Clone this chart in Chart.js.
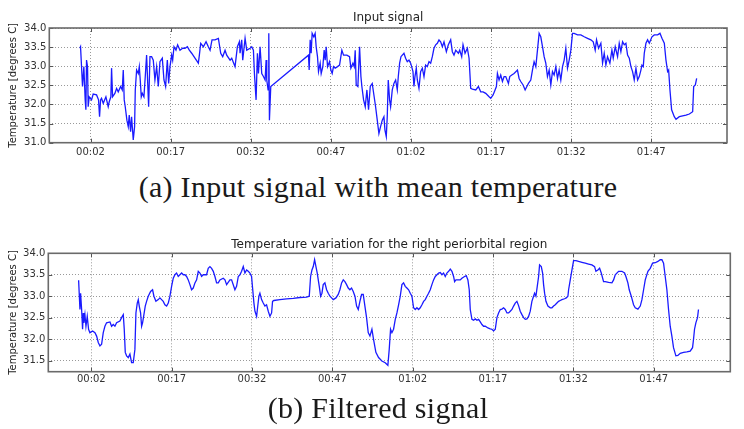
<!DOCTYPE html>
<html><head><meta charset="utf-8">
<script src="https://cdn.jsdelivr.net/npm/chart.js@4.4.1/dist/chart.umd.min.js"></script>
<style>
html,body{margin:0;padding:0;background:#fff;width:744px;height:429px;overflow:hidden;}
canvas{position:absolute;left:0;}
#ca{top:0;} #cb{top:228px;}
.cap{position:absolute;left:6px;width:744px;text-align:center;font-family:'Liberation Serif',serif;font-size:30px;line-height:30px;letter-spacing:0.3px;color:#1a1a1a;white-space:nowrap;}
</style></head><body>
<canvas id="ca" width="744" height="165"></canvas>
<canvas id="cb" width="744" height="167"></canvas>
<div class="cap" style="top:172px">(a) Input signal with mean temperature</div>
<div class="cap" style="top:393px">(b) Filtered signal</div>
<script>
const xTickMinutes = [2, 17, 32, 47, 62, 77, 92, 107];
const xTickLabels = ['00:02', '00:17', '00:32', '00:47', '01:02', '01:17', '01:32', '01:47'];
const inputYTicks = [31.0, 31.5, 32.0, 32.5, 33.0, 33.5, 34.0];
const filteredYTicks = [31.5, 32.0, 32.5, 33.0, 33.5, 34.0];

const inputMinutes = [
  0.00,0.13,0.50,0.75,1.00,1.13,1.25,1.44,1.56,1.75,
  2.19,2.50,3.13,3.50,3.69,3.88,4.06,4.38,4.88,5.31,
  5.50,5.81,5.94,6.13,6.56,6.88,7.19,7.63,7.94,8.13,
  8.31,8.50,8.81,9.06,9.25,9.50,9.69,10.00,10.25,10.38,
  10.63,10.94,11.13,11.31,11.50,11.69,12.00,12.25,12.50,12.88,
  13.13,13.44,13.75,14.06,14.38,14.69,15.00,15.44,15.75,16.06,
  16.38,16.63,16.88,17.19,17.38,17.63,18.00,18.31,18.75,19.25,
  19.69,20.13,20.50,20.94,21.56,22.19,22.38,22.63,23.13,23.63,
  24.06,24.38,24.75,25.31,25.94,26.38,26.75,27.19,27.50,28.13,
  28.44,29.06,29.50,29.88,30.00,30.31,30.50,30.94,31.25,31.88,
  32.19,32.50,32.69,33.00,33.25,33.44,33.75,34.06,34.38,34.69,
  34.88,35.00,35.25,35.38,35.50,35.75,
  42.81,42.94,43.13,43.31,43.50,43.81,44.06,44.25,44.50,44.69,
  45.00,45.19,45.50,45.75,45.94,46.13,46.38,46.75,47.00,47.25,
  47.50,47.81,48.25,48.63,49.06,49.38,50.00,50.50,50.75,51.13,
  51.38,51.56,51.75,52.06,52.38,52.63,52.81,53.13,53.44,53.75,
  54.06,54.38,54.75,
  55.38,55.69,56.00,56.31,56.63,56.94,57.13,57.38,57.56,57.75,
  58.00,58.19,58.50,58.81,59.13,59.44,59.63,59.88,60.13,60.38,
  60.69,61.00,61.31,61.63,61.94,62.13,62.38,62.56,62.75,63.00,
  63.19,63.50,63.81,64.13,64.44,64.75,65.06,65.38,65.69,66.00,
  66.31,66.63,66.94,67.25,67.56,67.88,68.19,68.63,69.00,69.44,
  69.75,70.06,70.38,70.88,71.13,71.50,71.75,72.13,72.56,72.88,
  73.19,73.50,74.13,74.63,75.06,75.50,76.00,76.63,76.94,77.38,
  77.75,78.00,78.19,78.50,78.81,79.13,79.44,79.75,80.25,80.50,
  80.88,81.31,81.94,82.25,82.56,83.00,83.38,83.63,84.00,84.44,
  84.75,85.06,85.38,85.69,86.00,86.31,86.63,86.94,87.25,87.56,
  87.88,88.19,88.50,88.81,89.13,89.44,89.75,90.06,90.38,90.69,
  91.00,91.31,91.63,91.94,92.25,92.56,93.19,93.81,94.44,95.06,
  95.69,96.13,96.50,96.75,97.13,97.56,97.88,98.19,98.50,98.81,
  99.25,99.63,99.88,100.25,100.69,101.00,101.31,101.63,101.94,102.25,
  102.56,102.88,103.19,103.50,103.81,104.13,104.44,104.75,105.06,105.25,
  105.50,105.69,106.00,106.31,106.63,107.13,107.56,108.19,108.63,109.00,
  109.44,109.75,110.06,110.25,110.50,110.81,111.31,111.63,112.25,112.88,
  113.50,114.13,114.75,114.94,115.25,115.50
];
const inputTemps = [
  33.47,33.51,32.47,32.99,32.12,31.86,33.16,32.99,31.94,32.20,
  32.12,32.27,32.25,32.12,31.68,32.12,32.16,32.03,32.20,31.94,
  32.07,32.20,32.95,32.20,32.29,32.42,32.33,32.47,32.38,32.90,
  32.12,31.94,31.59,31.42,31.72,31.29,31.68,31.07,31.42,32.38,
  32.90,32.81,32.99,32.64,32.20,32.29,32.20,32.73,33.29,31.94,
  33.25,33.25,33.16,32.64,32.99,32.47,33.12,33.21,32.64,32.47,
  33.16,32.55,32.99,33.29,33.16,33.51,33.42,33.56,33.42,33.47,
  33.47,33.51,33.42,33.34,33.21,33.08,33.29,33.60,33.51,33.64,
  33.51,33.42,33.69,33.69,33.73,33.34,33.25,33.42,33.29,33.16,
  33.21,32.99,33.51,33.64,33.34,33.69,33.16,33.73,33.42,33.47,
  33.51,33.42,32.81,32.12,33.34,32.81,33.51,32.81,32.73,32.64,
  33.16,32.64,32.38,33.86,31.59,32.47,
  33.29,32.90,33.69,33.34,33.86,33.77,33.86,33.51,33.25,32.86,
  33.08,32.81,32.99,33.42,33.16,33.51,32.99,33.12,32.90,32.81,
  32.99,32.95,32.99,33.03,33.42,33.29,33.29,33.25,32.95,33.08,
  32.99,33.42,32.51,32.47,33.51,32.73,32.47,32.12,31.94,32.38,
  31.86,32.47,32.55,
  31.94,31.59,31.24,31.42,31.59,31.68,31.33,31.16,31.68,32.64,
  32.12,31.94,32.38,32.55,32.64,32.38,32.73,33.08,33.25,33.29,
  33.34,33.21,33.12,33.16,33.08,32.99,32.86,32.47,32.73,32.95,
  32.64,32.42,32.86,32.95,32.73,33.03,32.99,33.12,33.08,33.25,
  33.47,33.56,33.60,33.69,33.64,33.51,33.64,33.38,33.56,33.69,
  33.38,33.29,33.42,33.34,33.42,33.25,33.56,33.34,33.47,33.21,
  32.42,32.40,32.38,32.47,32.33,32.33,32.29,32.20,32.16,32.25,
  32.38,32.47,32.81,32.64,32.77,32.60,32.73,32.73,32.55,32.73,
  32.77,32.81,32.90,32.68,32.60,32.51,32.38,32.45,32.55,32.64,
  32.90,33.12,32.99,33.42,33.86,33.77,33.51,33.25,33.08,32.73,
  32.90,32.51,32.86,32.77,32.99,32.68,32.90,32.64,32.99,33.16,
  33.47,32.95,33.16,33.42,33.86,33.86,33.82,33.82,33.77,33.73,
  33.69,33.64,33.42,33.69,33.47,33.60,33.08,33.34,33.03,33.25,
  33.08,33.42,33.21,33.51,33.25,33.60,33.38,33.64,33.56,33.60,
  33.29,33.21,32.99,32.86,32.64,32.95,32.64,32.73,32.90,33.03,
  32.99,33.34,33.60,33.69,33.60,33.77,33.82,33.82,33.86,33.73,
  33.60,33.16,32.86,32.90,32.38,31.86,31.68,31.61,31.68,31.70,
  31.72,31.75,31.81,32.47,32.51,32.68
];

const filteredMinutes = [
  -0.37,-0.12,0.00,0.19,0.37,0.50,0.62,0.81,1.00,1.24,
  1.49,1.74,2.24,2.68,2.99,3.30,3.61,3.92,4.23,4.54,
  4.85,5.48,5.79,6.10,6.41,6.72,7.34,7.65,7.97,8.15,
  8.34,8.59,8.90,9.21,9.52,9.83,10.14,10.33,10.58,10.77,
  10.95,11.20,11.39,11.57,11.82,12.07,12.32,12.63,13.07,13.44,
  13.69,14.06,14.50,14.81,15.12,15.43,15.74,16.06,16.37,16.68,
  16.99,17.30,17.61,17.92,18.23,18.54,18.86,19.17,19.48,19.79,
  20.10,20.41,20.72,21.03,21.35,21.66,21.97,22.28,22.59,22.90,
  23.52,23.83,24.15,24.46,24.77,25.08,25.39,25.70,26.01,26.63,
  26.95,27.26,27.88,28.19,28.81,29.12,29.44,29.75,30.06,30.37,
  30.68,30.99,31.30,31.61,31.92,32.11,32.36,32.55,32.86,33.04,
  33.29,33.48,33.79,34.10,34.41,34.72,35.04,35.35,35.66,35.84,
  36.09,37.21,38.46,39.70,40.95,42.19,42.69,42.94,43.19,43.44,
  43.69,43.94,44.18,44.56,44.81,45.06,45.30,45.61,45.93,46.24,
  46.55,46.86,47.17,47.67,48.10,48.41,48.73,49.04,49.35,49.66,
  49.97,50.28,50.59,50.90,51.22,51.53,51.84,52.15,52.46,52.77,
  53.08,53.39,53.70,54.02,54.39,54.70,55.13,55.63,56.25,56.87,
  57.37,57.62,57.87,58.12,58.43,58.75,59.06,59.37,59.68,59.99,
  60.30,60.61,60.92,61.24,61.55,61.86,62.17,62.48,62.79,63.10,
  63.41,63.73,64.04,64.35,64.66,64.97,65.28,65.59,65.90,66.22,
  66.53,66.84,67.15,67.46,67.77,68.08,68.39,68.71,69.02,69.33,
  69.64,69.83,70.07,70.45,70.88,71.19,71.69,72.00,72.31,72.56,
  72.75,73.06,73.37,73.68,74.00,74.31,74.62,74.93,75.24,75.55,
  76.05,76.48,76.79,77.11,77.42,77.73,78.04,78.35,78.66,78.97,
  79.28,79.60,79.91,80.22,80.53,80.84,81.15,81.46,81.77,82.08,
  82.40,82.71,83.02,83.33,83.64,83.95,84.26,84.57,84.76,85.01,
  85.26,85.51,85.69,86.01,86.26,86.44,86.63,86.88,87.25,87.69,
  88.00,88.31,88.62,88.93,89.24,89.55,89.86,90.36,90.67,90.98,
  91.11,91.42,91.73,92.04,92.48,92.98,93.60,94.22,94.84,95.46,
  95.96,96.21,96.58,96.90,97.21,97.64,97.95,98.58,99.20,99.51,
  99.82,100.44,101.06,101.56,101.81,102.18,102.43,102.81,103.24,103.55,
  104.05,104.49,104.80,105.11,105.42,105.92,106.35,106.79,107.29,107.78,
  108.22,108.53,108.84,109.15,109.46,109.77,110.08,110.39,110.70,111.14,
  111.51,111.95,112.57,113.19,113.81,114.25,114.43,114.62,114.87,115.18,
  115.36
];
const filteredTemps = [
  33.37,32.69,33.07,32.69,32.23,32.61,32.38,32.57,32.30,32.53,
  32.23,32.15,32.19,32.15,32.07,31.92,31.84,31.88,32.15,32.30,
  32.38,32.40,32.30,32.34,32.30,32.38,32.42,32.50,32.57,32.23,
  31.69,31.61,31.57,31.65,31.45,31.45,31.76,32.61,32.84,32.92,
  32.77,32.61,32.30,32.38,32.57,32.77,32.88,33.00,33.11,33.15,
  33.00,32.88,32.92,32.96,32.92,32.88,32.80,32.77,32.84,33.00,
  33.23,33.42,33.50,33.54,33.46,33.50,33.54,33.50,33.50,33.46,
  33.38,33.27,33.15,33.19,33.31,33.38,33.58,33.54,33.46,33.50,
  33.50,33.65,33.69,33.65,33.58,33.46,33.31,33.31,33.38,33.42,
  33.38,33.27,33.38,33.38,33.15,33.23,33.46,33.50,33.58,33.69,
  33.54,33.61,33.58,33.54,33.46,33.19,32.84,32.65,32.53,32.73,
  33.00,33.07,32.92,32.84,32.77,32.80,32.65,32.53,32.61,32.88,
  32.90,32.92,32.94,32.95,32.97,32.98,33.00,33.46,33.61,33.69,
  33.85,33.69,33.54,33.23,33.00,33.07,33.27,33.31,33.15,33.07,
  33.00,32.96,32.92,32.96,33.04,33.15,33.31,33.38,33.34,33.27,
  33.19,33.15,33.19,33.11,33.00,32.77,32.69,32.88,33.04,33.04,
  32.77,32.50,32.15,32.07,32.23,31.99,31.69,31.57,31.49,31.45,
  31.39,31.76,32.23,32.15,32.23,32.46,32.61,32.80,33.00,33.27,
  33.31,33.23,33.19,33.15,33.07,33.00,32.73,32.69,32.73,32.69,
  32.73,32.80,32.88,32.92,33.00,33.07,33.15,33.27,33.38,33.46,
  33.50,33.54,33.55,33.50,33.54,33.46,33.54,33.58,33.63,33.58,
  33.46,33.34,33.38,33.38,33.38,33.42,33.46,33.48,33.38,33.15,
  32.69,32.46,32.44,32.47,32.44,32.46,32.40,32.34,32.30,32.30,
  32.26,32.24,32.23,32.19,32.23,32.50,32.61,32.69,32.70,32.73,
  32.69,32.61,32.61,32.65,32.69,32.77,32.84,32.88,32.78,32.65,
  32.57,32.50,32.46,32.47,32.53,32.65,32.88,33.00,33.07,33.00,
  33.23,33.46,33.73,33.69,33.54,33.27,33.07,32.88,32.77,32.73,
  32.73,32.77,32.80,32.84,32.88,32.90,32.92,32.94,32.96,33.00,
  33.15,33.38,33.61,33.83,33.83,33.81,33.79,33.77,33.75,33.73,
  33.69,33.58,33.61,33.65,33.54,33.34,33.34,33.32,33.31,33.38,
  33.50,33.58,33.58,33.54,33.46,33.31,33.15,33.00,32.80,32.73,
  32.70,32.77,32.92,33.15,33.38,33.58,33.65,33.77,33.78,33.81,
  33.85,33.85,33.77,33.46,33.15,32.69,32.30,32.07,31.80,31.61,
  31.62,31.67,31.69,31.70,31.72,31.80,31.99,32.23,32.38,32.50,
  32.69
];

const FONT = 'DejaVu Sans';

const framePlugin = {
  id: 'frame',
  afterDraw(chart) {
    const { ctx, chartArea: a, scales } = chart;
    ctx.save();
    ctx.strokeStyle = '#555';
    ctx.lineWidth = 1;
    ctx.beginPath();
    scales.x.ticks.forEach(t => {
      const px = Math.round(scales.x.getPixelForValue(t.value)) + 0.5;
      ctx.moveTo(px, a.bottom); ctx.lineTo(px, a.bottom - 4);
      ctx.moveTo(px, a.top); ctx.lineTo(px, a.top + 4);
    });
    scales.y.ticks.forEach(t => {
      const py = Math.round(scales.y.getPixelForValue(t.value)) + 0.5;
      ctx.moveTo(a.left, py); ctx.lineTo(a.left + 4, py);
      ctx.moveTo(a.right, py); ctx.lineTo(a.right - 4, py);
    });
    ctx.stroke();
    ctx.lineWidth = 1.6;
    ctx.strokeStyle = '#6a6a6a';
    ctx.strokeRect(a.left, a.top, a.right - a.left, a.bottom - a.top);
    ctx.restore();
  }
};

function makeChart(id, minutes, temps, cfg) {
  const points = minutes.map((m, i) => ({ x: m, y: temps[i] }));
  const gridOpts = { color: 'rgba(0,0,0,0.4)', lineWidth: 1, drawTicks: false };
  return new Chart(document.getElementById(id), {
    type: 'line',
    data: { datasets: [{ data: points, borderColor: '#1a1aff', borderWidth: 1.3, pointRadius: 0, tension: 0, fill: false }] },
    options: {
      responsive: false, animation: false, devicePixelRatio: 1,
      layout: { padding: { left: 0, right: cfg.padRight, top: 0, bottom: 0 } },
      plugins: {
        legend: { display: false },
        tooltip: { enabled: false },
        title: {
          display: true, text: cfg.title, fullSize: false, color: '#222',
          font: { family: FONT, size: 12, weight: 'normal', lineHeight: 1.2 },
          padding: { top: cfg.titleTop, bottom: cfg.titleBottom }
        }
      },
      scales: {
        x: {
          type: 'linear', min: cfg.xMin, max: cfg.xMax,
          afterBuildTicks: s => { s.ticks = xTickMinutes.map(v => ({ value: v })); },
          afterFit: s => { s.height = cfg.xHeight; },
          ticks: {
            autoSkip: false, maxRotation: 0, padding: cfg.xPad, color: '#333',
            font: { family: FONT, size: 10 },
            callback: (v, i) => xTickLabels[i]
          },
          grid: gridOpts,
          border: { display: false, dash: [1, 2] }
        },
        y: {
          min: cfg.yMin, max: cfg.yMax,
          afterBuildTicks: s => { s.ticks = cfg.yTicks.map(v => ({ value: v })); },
          afterFit: s => { s.width = cfg.yWidth; },
          ticks: {
            padding: 3, color: '#333', font: { family: FONT, size: 10 },
            callback: v => Number(v).toFixed(1)
          },
          grid: gridOpts,
          border: { display: false, dash: [1, 2] },
          title: {
            display: true, text: 'Temperature [degrees C]', color: '#222',
            font: { family: FONT, size: 10, lineHeight: 1.2 },
            padding: { top: 7, bottom: 0 }
          }
        }
      }
    },
    plugins: [framePlugin]
  });
}

makeChart('ca', inputMinutes, inputTemps, {
  title: 'Input signal', padRight: 17, titleTop: 10.8, titleBottom: 2.8,
  xMin: -5.72, xMax: 121.18, xHeight: 22.3, xPad: 4,
  yMin: 31.0, yMax: 34.0, yTicks: inputYTicks, yWidth: 49.3
});
makeChart('cb', filteredMinutes, filteredTemps, {
  title: 'Temperature variation for the right periorbital region', padRight: 13.7, titleTop: 9.8, titleBottom: 1.1,
  xMin: -6.03, xMax: 121.3, xHeight: 23.3, xPad: 2,
  yMin: 31.24, yMax: 34.0, yTicks: filteredYTicks, yWidth: 48.3
});
</script>
</body></html>
